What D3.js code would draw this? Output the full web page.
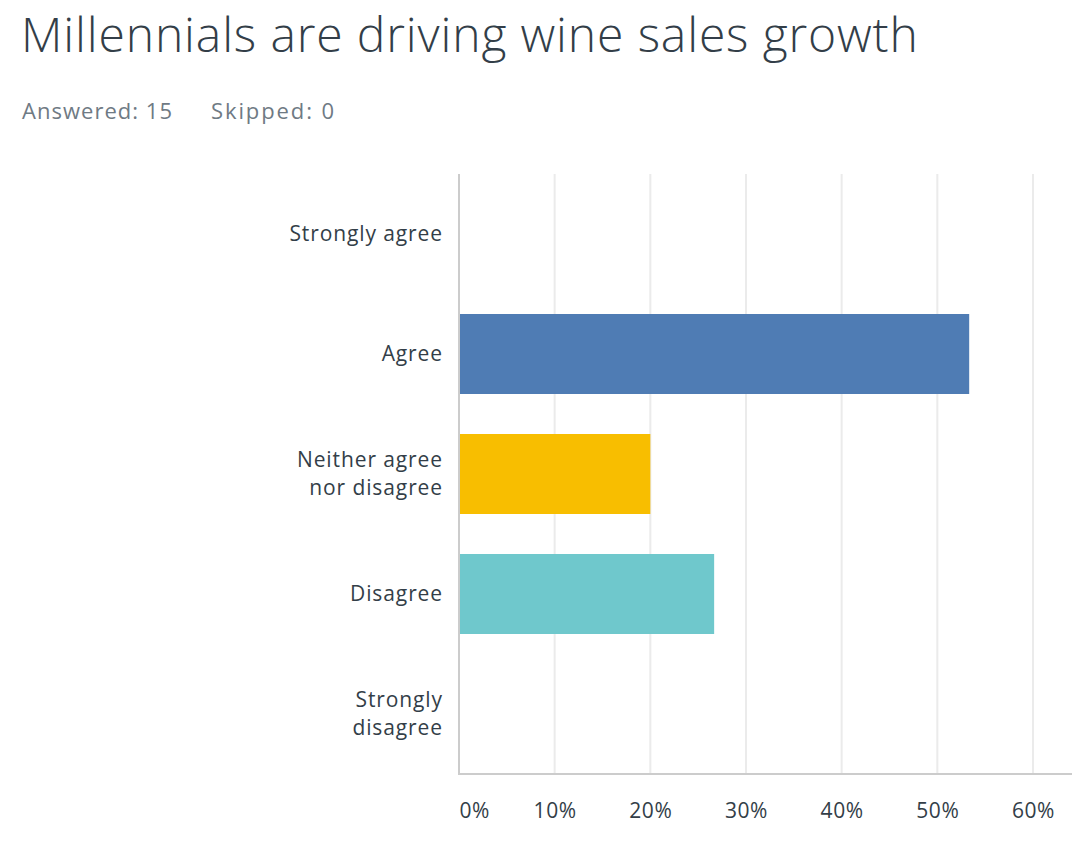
<!DOCTYPE html>
<html>
<head>
<meta charset="utf-8">
<script src="https://cdn.jsdelivr.net/npm/d3@7"></script>
<style>
  html, body { margin: 0; padding: 0; background: #fff; }
  svg { display: block; font-family: "Open Sans", "Lato", sans-serif; }
</style>
</head>
<body>
<svg id="chart" width="1072" height="850"></svg>
<script>
const titleText = "Millennials are driving wine sales growth";
const answeredText = "Answered: 15";
const skippedText = "Skipped: 0";
const categories = [
  ["Strongly agree"],
  ["Agree"],
  ["Neither agree", "nor disagree"],
  ["Disagree"],
  ["Strongly", "disagree"]
];
const values = [0, 53.33, 20.00, 26.67, 0];
const barColors = ["#4f7cb4", "#4f7cb4", "#f8be00", "#6fc8cc", "#4f7cb4"];
const tickValues = [0, 10, 20, 30, 40, 50, 60];

const svg = d3.select("#chart");
const margin = { left: 459, right: 39, top: 174, bottom: 76 };
const W = 1072, H = 850;

const x = d3.scaleLinear().domain([0, 60]).range([margin.left, W - margin.right]);
const y = d3.scaleBand()
  .domain(categories.map((d, i) => i))
  .range([margin.top, H - margin.bottom])
  .paddingInner(1 / 3)
  .paddingOuter(1 / 6);

function fit(sel, target) {
  const n = sel.text().length;
  const w = sel.node().getComputedTextLength();
  if (n > 1) sel.attr("letter-spacing", ((target - w) / (n - 1)).toFixed(2));
}

const title = svg.append("text")
  .attr("x", 21).attr("y", 52)
  .attr("fill", "#333e48")
  .attr("font-size", 48)
  .attr("font-weight", 300)
  .text(titleText);
fit(title, 897);

const ans = svg.append("text")
  .attr("x", 22).attr("y", 119)
  .attr("fill", "#6f7a84")
  .attr("font-size", 22)
  .text(answeredText);
fit(ans, 150);
const sk = svg.append("text")
  .attr("x", 211).attr("y", 119)
  .attr("fill", "#6f7a84")
  .attr("font-size", 22)
  .text(skippedText);
fit(sk, 123);

// gridlines
svg.append("g")
  .selectAll("line")
  .data(tickValues.filter(d => d > 0))
  .join("line")
  .attr("x1", d => x(d)).attr("x2", d => x(d))
  .attr("y1", margin.top).attr("y2", H - margin.bottom)
  .attr("stroke", "#ebebeb")
  .attr("stroke-width", 2);

// bars
svg.append("g")
  .selectAll("rect")
  .data(values)
  .join("rect")
  .attr("x", x(0) + 1)
  .attr("y", (d, i) => y(i))
  .attr("width", d => Math.max(0, x(d) - x(0) - 1))
  .attr("height", y.bandwidth())
  .attr("fill", (d, i) => barColors[i]);

// axis lines
svg.append("line")
  .attr("x1", x(0)).attr("x2", x(0))
  .attr("y1", margin.top).attr("y2", H - margin.bottom + 1)
  .attr("stroke", "#cccccc").attr("stroke-width", 2);
svg.append("line")
  .attr("x1", x(0) - 1).attr("x2", W)
  .attr("y1", H - margin.bottom).attr("y2", H - margin.bottom)
  .attr("stroke", "#cccccc").attr("stroke-width", 2);

// x tick labels
const xAxis = d3.axisBottom(x)
  .tickValues(tickValues)
  .tickFormat(d => d + "%")
  .tickSize(0)
  .tickPadding(0);
const gx = svg.append("g")
  .attr("transform", `translate(0, ${H - margin.bottom})`)
  .call(xAxis);
gx.select(".domain").remove();
gx.selectAll("text")
  .attr("font-family", "\"Open Sans\", sans-serif")
  .attr("font-size", 21)
  .attr("letter-spacing", 0.6)
  .attr("fill", "#333e48")
  .attr("dy", null)
  .attr("y", 44)
  .attr("text-anchor", (d, i) => i === 0 ? "start" : "middle");

// y category labels
const lineH = 28;
const gy = svg.append("g");
categories.forEach((lines, i) => {
  const cy = y(i) + y.bandwidth() / 2;
  const t = gy.append("text")
    .attr("x", 443)
    .attr("text-anchor", "end")
    .attr("font-size", 21)
    .attr("letter-spacing", 0.9)
    .attr("fill", "#333e48");
  lines.forEach((ln, j) => {
    t.append("tspan")
      .attr("x", 443)
      .attr("y", cy + 7 + (j - (lines.length - 1) / 2) * lineH)
      .text(ln);
  });
});
</script>
</body>
</html>
